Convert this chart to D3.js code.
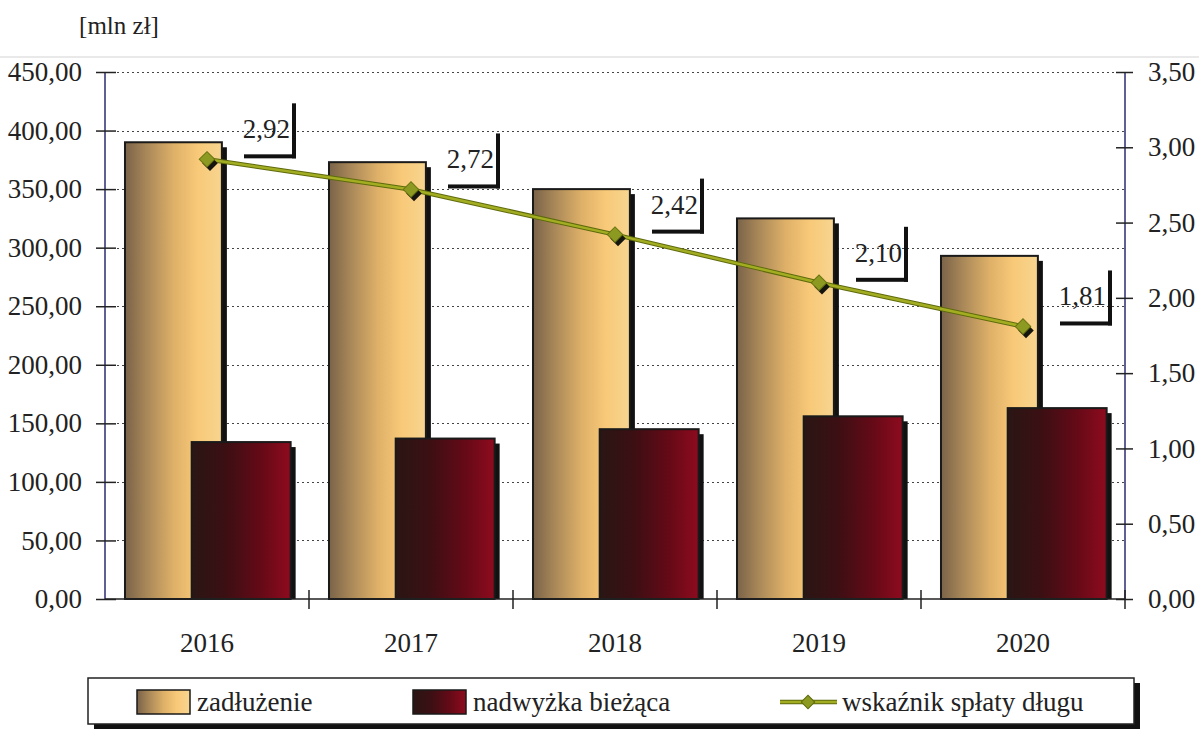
<!DOCTYPE html>
<html><head><meta charset="utf-8">
<script src="https://cdn.jsdelivr.net/npm/d3@7"></script>
<style>html,body{margin:0;padding:0;background:#fff;}svg{display:block;}
svg text{font-family:"Liberation Serif","Times New Roman",serif !important;}</style>
</head><body>
<svg id="c" width="1199" height="729"></svg>
<script>
const years = ["2016","2017","2018","2019","2020"];
const zadluzenie = [390, 373, 350, 325, 293];
const nadwyzka = [134, 137, 145, 156, 163];
const wskaznik = [2.92, 2.72, 2.42, 2.10, 1.81];
const leftTicks = [0,50,100,150,200,250,300,350,400,450];
const rightTicks = [0,0.5,1,1.5,2,2.5,3,3.5];
const seriesNames = ["zadłużenie","nadwyżka bieżąca","wskaźnik spłaty długu"];
const unitLabel = "[mln zł]";

const svg = d3.select("#c");
const FONT = "Liberation Serif";
const fmt = v => d3.format(".2f")(v).replace(".", ",");

const L = 105, R = 1125, T = 72, B = 599;
const x = d3.scaleBand().domain(years).range([L, R]).padding(0);
const yL = d3.scaleLinear().domain([0, 450]).range([B, T]);
const yR = d3.scaleLinear().domain([0, 3.5]).range([B, T]);
const bw = x.bandwidth();

const defs = svg.append("defs");
const g1 = defs.append("linearGradient").attr("id","gz").attr("x1","0").attr("x2","1").attr("y1","0").attr("y2","0");
[[0,"#7a6349"],[0.2,"#a48457"],[0.5,"#deb068"],[0.75,"#f8c978"],[1,"#f7d590"]].forEach(s=>g1.append("stop").attr("offset",s[0]).attr("stop-color",s[1]));
const g2 = defs.append("linearGradient").attr("id","gn").attr("x1","0").attr("x2","1").attr("y1","0").attr("y2","0");
[[0,"#2a1614"],[0.35,"#3c0f13"],[0.7,"#650a17"],[1,"#8e0b1e"]].forEach(s=>g2.append("stop").attr("offset",s[0]).attr("stop-color",s[1]));

// faint page line at top
svg.append("line").attr("x1",0).attr("x2",1199).attr("y1",57).attr("y2",57).attr("stroke","#e2e2e2").attr("stroke-width",1.5);

// unit label
svg.append("text").attr("x",119).attr("y",34).attr("text-anchor","middle")
  .style("font-family",FONT).attr("font-size",25).attr("fill","#222").text(unitLabel);

// gridlines
svg.append("g").selectAll("line").data(leftTicks.filter(d=>d>0)).join("line")
  .attr("x1",L+12).attr("x2",R).attr("y1",d=>Math.round(yL(d))+0.5).attr("y2",d=>Math.round(yL(d))+0.5)
  .attr("stroke","#444").attr("stroke-width",1.2).attr("stroke-dasharray","2,3");

// bars
const zOff = 0.098, zW = 0.475, nOff = 0.425, nW = 0.485;
function bar(g, xs, vals, offF, wF, fill){
  const grp = g.append("g");
  vals.forEach((v,i)=>{
    const x0 = x(xs[i]) + offF*bw, w = wF*bw, y0 = yL(v), h = B - y0;
    grp.append("rect").attr("x",x0+w).attr("y",y0+5).attr("width",5).attr("height",h-5).attr("fill","#111");
    grp.append("rect").attr("x",x0).attr("y",y0).attr("width",w).attr("height",h)
      .attr("fill",fill).attr("stroke","#1a1a1a").attr("stroke-width",2);
  });
}
bar(svg, years, zadluzenie, zOff, zW, "url(#gz)");
bar(svg, years, nadwyzka, nOff, nW, "url(#gn)");

// axes
const axL = svg.append("g").attr("transform",`translate(${L},0)`)
  .call(d3.axisLeft(yL).tickValues(leftTicks).tickFormat(fmt).tickSize(9).tickPadding(14));
axL.selectAll(".tick line").attr("x2",-9).clone().attr("x2",11);
const axR = svg.append("g").attr("transform",`translate(${R},0)`)
  .call(d3.axisRight(yR).tickValues(rightTicks).tickFormat(fmt).tickSize(8).tickPadding(15));
axR.selectAll(".tick line").clone().attr("x2",-9);
[axL,axR].forEach(a=>{
  a.attr("font-family",null);
  a.select(".domain").attr("stroke","#2b2b70").attr("stroke-width",1.5).attr("d",`M0,${T}V${B}`);
  a.selectAll(".tick line").attr("stroke","#222").attr("stroke-width",1.5);
  a.selectAll("text").style("font-family",FONT).attr("font-size",27).attr("fill","#222");
});
// bottom axis
const axB = svg.append("g").attr("transform",`translate(0,${B})`)
  .call(d3.axisBottom(x).tickSize(0).tickPadding(34));
axB.attr("font-family",null);
axB.select(".domain").attr("stroke","#222").attr("stroke-width",1.5).attr("d",`M${L},0H${R}`);
axB.selectAll("text").style("font-family",FONT).attr("font-size",27).attr("fill","#222");
svg.append("g").selectAll("line").data(years.slice(1).concat(["end"])).join("line")
  .attr("x1",(d,i)=>L+bw*(i+1)).attr("x2",(d,i)=>L+bw*(i+1)).attr("y1",B-9).attr("y2",B+10)
  .attr("stroke","#222").attr("stroke-width",1.5);

// line series
const cx = d => x(d) + bw/2;
const lineGen = d3.line().x((d,i)=>cx(years[i])).y(d=>yR(d));
svg.append("path").datum(wskaznik).attr("d",lineGen).attr("fill","none")
  .attr("stroke","#5e6a0c").attr("stroke-width",4.5);
svg.append("path").datum(wskaznik).attr("d",lineGen).attr("fill","none")
  .attr("stroke","#a3ad22").attr("stroke-width",2.5);
const diamond = d3.symbol().type(d3.symbolSquare).size(120);
wskaznik.forEach((v,i)=>{
  const px = cx(years[i]), py = yR(v);
  svg.append("path").attr("d",diamond()).attr("transform",`translate(${px+3},${py+4}) rotate(45)`).attr("fill","#151510");
  svg.append("path").attr("d",diamond()).attr("transform",`translate(${px},${py}) rotate(45)`)
    .attr("fill","#8c9a22").attr("stroke","#6a7410").attr("stroke-width",1);
});

// data labels with L-shaped shadow
wskaznik.forEach((v,i)=>{
  const px = cx(years[i]), py = yR(v);
  const bx0 = px + 37, bx1 = bx0 + 52, by1 = py - 1, by0 = by1 - 55;
  svg.append("rect").attr("x",bx1-4).attr("y",by0).attr("width",4).attr("height",by1-by0).attr("fill","#111");
  svg.append("rect").attr("x",bx0).attr("y",by1-4).attr("width",bx1-bx0).attr("height",4).attr("fill","#111");
  svg.append("text").attr("x",bx1-6).attr("y",by0+35).attr("text-anchor","end")
    .style("font-family",FONT).attr("font-size",27).attr("fill","#222").text(fmt(v));
});

// legend
const lg = svg.append("g");
const lx0 = 88, ly0 = 678, lx1 = 1134, ly1 = 724;
lg.append("rect").attr("x",lx0+6).attr("y",ly0+5).attr("width",lx1-lx0).attr("height",ly1-ly0).attr("fill","#111");
lg.append("rect").attr("x",lx0).attr("y",ly0).attr("width",lx1-lx0).attr("height",ly1-ly0).attr("fill","#fff").attr("stroke","#222").attr("stroke-width",1.5);
const items = [
  {name:seriesNames[0], type:"bar", fill:"url(#gz)", sx:137, tx:197},
  {name:seriesNames[1], type:"bar", fill:"url(#gn)", sx:413, tx:473},
  {name:seriesNames[2], type:"line", sx:780, tx:842}
];
items.forEach(it=>{
  const cy = (ly0+ly1)/2 + 1;
  if(it.type==="bar"){
    lg.append("rect").attr("x",it.sx).attr("y",cy-12).attr("width",53).attr("height",24)
      .attr("fill",it.fill).attr("stroke","#1a1a1a").attr("stroke-width",1.5);
  } else {
    lg.append("line").attr("x1",it.sx).attr("x2",it.sx+57).attr("y1",cy).attr("y2",cy).attr("stroke","#5e6a0c").attr("stroke-width",4.5);
    lg.append("line").attr("x1",it.sx).attr("x2",it.sx+57).attr("y1",cy).attr("y2",cy).attr("stroke","#a3ad22").attr("stroke-width",2.5);
    lg.append("path").attr("d",d3.symbol().type(d3.symbolSquare).size(90)()).attr("transform",`translate(${it.sx+28},${cy}) rotate(45)`)
      .attr("fill","#8c9a22").attr("stroke","#5e6a0c").attr("stroke-width",1);
  }
  lg.append("text").attr("x",it.tx).attr("y",cy+9).style("font-family",FONT).attr("font-size",27).attr("fill","#222").text(it.name);
});
</script>
</body></html>
